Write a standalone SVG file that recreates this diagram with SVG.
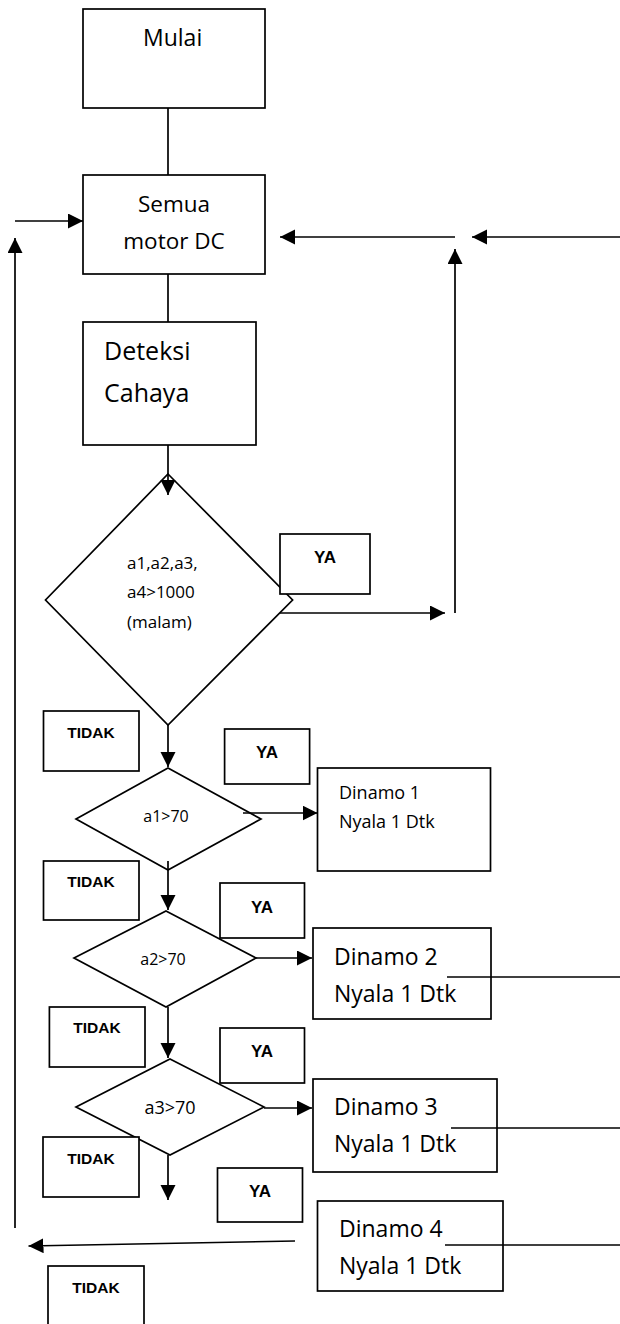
<svg xmlns="http://www.w3.org/2000/svg" width="620" height="1324" viewBox="0 0 620 1324">
<style>
.box{fill:#fff;stroke:#000;stroke-width:1.7}
.ln{fill:none;stroke:#000;stroke-width:1.7}
.t{font-family:"Open Sans","Liberation Sans",sans-serif;fill:#000}
.b{font-family:"Liberation Sans",Arial,sans-serif;font-weight:bold;fill:#000}
</style>
<defs>
<marker id="ah" markerUnits="userSpaceOnUse" markerWidth="16" markerHeight="16" refX="15" refY="7.5" orient="auto">
<path d="M0,0 L15,7.5 L0,15 z" fill="#000"/>
</marker>
</defs>
<rect width="620" height="1324" fill="#fff"/>
<g id="mulai">
<rect class="box" x="83" y="9" width="182" height="99"/>
<text class="t" x="143" y="46" font-size="23">Mulai</text>
</g>
<g id="semua">
<rect class="box" x="83" y="175" width="182" height="99"/>
<text class="t" x="174" y="212" font-size="22.5" text-anchor="middle">Semua</text>
<text class="t" x="174" y="249" font-size="22.5" text-anchor="middle">motor DC</text>
</g>
<g id="deteksi">
<rect class="box" x="83" y="322" width="173" height="123"/>
<text class="t" x="104" y="360" font-size="25">Deteksi</text>
<text class="t" x="104" y="402" font-size="25">Cahaya</text>
</g>
<g id="cek-malam">
<polygon class="box" points="168,474 292.6,600 168,725 45.5,600"/>
<text class="t" x="127" y="569" font-size="17">a1,a2,a3,</text>
<text class="t" x="127" y="598" font-size="17">a4&gt;1000</text>
<text class="t" x="127" y="628" font-size="17">(malam)</text>
</g>
<g id="cek-a1">
<polygon class="box" points="168,768 261,819 168,870 76,819"/>
<text class="t" x="166" y="822" font-size="16" text-anchor="middle">a1&gt;70</text>
</g>
<g id="dinamo1">
<rect class="box" x="317.5" y="768" width="173" height="103"/>
<text class="t" x="339" y="799" font-size="18">Dinamo 1</text>
<text class="t" x="339" y="828" font-size="18">Nyala 1 Dtk</text>
</g>
<g id="cek-a2">
<polygon class="box" points="166,911 256,958 166,1007 74,958"/>
<text class="t" x="163" y="965" font-size="16" text-anchor="middle">a2&gt;70</text>
</g>
<g id="dinamo2">
<rect class="box" x="313" y="928" width="178" height="91"/>
<text class="t" x="334" y="965" font-size="23">Dinamo 2</text>
<text class="t" x="334" y="1002" font-size="23">Nyala 1 Dtk</text>
</g>
<g id="cek-a3">
<polygon class="box" points="170,1059 264,1107 170,1155 76,1107"/>
<text class="t" x="170" y="1114" font-size="18" text-anchor="middle">a3&gt;70</text>
</g>
<g id="dinamo3">
<rect class="box" x="313" y="1079" width="184" height="93"/>
<text class="t" x="334" y="1115" font-size="23">Dinamo 3</text>
<text class="t" x="334" y="1152" font-size="23">Nyala 1 Dtk</text>
</g>
<g id="dinamo4">
<rect class="box" x="317.5" y="1201" width="185.5" height="90"/>
<text class="t" x="339" y="1237" font-size="23">Dinamo 4</text>
<text class="t" x="339" y="1274" font-size="23">Nyala 1 Dtk</text>
</g>
<g id="connectors">
<line class="ln" x1="168" y1="108" x2="168" y2="175"/>
<line class="ln" x1="168" y1="274" x2="168" y2="322"/>
<line class="ln" x1="168" y1="445" x2="168" y2="495" marker-end="url(#ah)"/>
<line class="ln" x1="15" y1="221" x2="83" y2="221" marker-end="url(#ah)"/>
<line class="ln" x1="15" y1="1228" x2="15" y2="238" marker-end="url(#ah)"/>
<line class="ln" x1="455" y1="237" x2="280" y2="237" marker-end="url(#ah)"/>
<line class="ln" x1="620" y1="237" x2="472" y2="237" marker-end="url(#ah)"/>
<line class="ln" x1="455" y1="613" x2="455" y2="249" marker-end="url(#ah)"/>
<line class="ln" x1="280" y1="613" x2="445" y2="613" marker-end="url(#ah)"/>
<line class="ln" x1="168" y1="725" x2="168" y2="767" marker-end="url(#ah)"/>
<line class="ln" x1="243" y1="813" x2="317.5" y2="813" marker-end="url(#ah)"/>
<line class="ln" x1="168" y1="861" x2="168" y2="910" marker-end="url(#ah)"/>
<line class="ln" x1="256" y1="958" x2="312" y2="958" marker-end="url(#ah)"/>
<line class="ln" x1="447" y1="977" x2="620" y2="977"/>
<line class="ln" x1="168" y1="1007" x2="168" y2="1058" marker-end="url(#ah)"/>
<line class="ln" x1="264" y1="1108" x2="312" y2="1108" marker-end="url(#ah)"/>
<line class="ln" x1="451" y1="1128" x2="620" y2="1128"/>
<line class="ln" x1="168" y1="1155" x2="168" y2="1200" marker-end="url(#ah)"/>
<line class="ln" x1="445" y1="1245" x2="620" y2="1245"/>
<line class="ln" x1="295" y1="1241" x2="28.5" y2="1246" marker-end="url(#ah)"/>
</g>
<g id="ya1">
<rect class="box" x="280" y="534" width="90" height="60"/>
<text class="b" x="325" y="563" font-size="17" text-anchor="middle">YA</text>
</g>
<g id="tidak1">
<rect class="box" x="43.5" y="711" width="95.5" height="60"/>
<text class="b" x="91" y="738" font-size="15.5" text-anchor="middle">TIDAK</text>
</g>
<g id="ya2">
<rect class="box" x="224.6" y="729" width="85" height="55"/>
<text class="b" x="267" y="758" font-size="17" text-anchor="middle">YA</text>
</g>
<g id="tidak2">
<rect class="box" x="43.5" y="861" width="95.5" height="59"/>
<text class="b" x="91" y="887" font-size="15.5" text-anchor="middle">TIDAK</text>
</g>
<g id="ya3">
<rect class="box" x="220" y="883" width="84.5" height="55"/>
<text class="b" x="262" y="913" font-size="17" text-anchor="middle">YA</text>
</g>
<g id="tidak3">
<rect class="box" x="49.4" y="1007" width="95.6" height="60"/>
<text class="b" x="97" y="1033" font-size="15.5" text-anchor="middle">TIDAK</text>
</g>
<g id="ya4">
<rect class="box" x="220" y="1028" width="84.5" height="55"/>
<text class="b" x="262" y="1057" font-size="17" text-anchor="middle">YA</text>
</g>
<g id="tidak4">
<rect class="box" x="43" y="1137" width="96" height="60"/>
<text class="b" x="91" y="1164" font-size="15.5" text-anchor="middle">TIDAK</text>
</g>
<g id="ya5">
<rect class="box" x="217.5" y="1168" width="85" height="54"/>
<text class="b" x="260" y="1197" font-size="17" text-anchor="middle">YA</text>
</g>
<g id="tidak5">
<rect class="box" x="48" y="1266" width="96" height="70"/>
<text class="b" x="96" y="1293" font-size="15.5" text-anchor="middle">TIDAK</text>
</g>
</svg>
